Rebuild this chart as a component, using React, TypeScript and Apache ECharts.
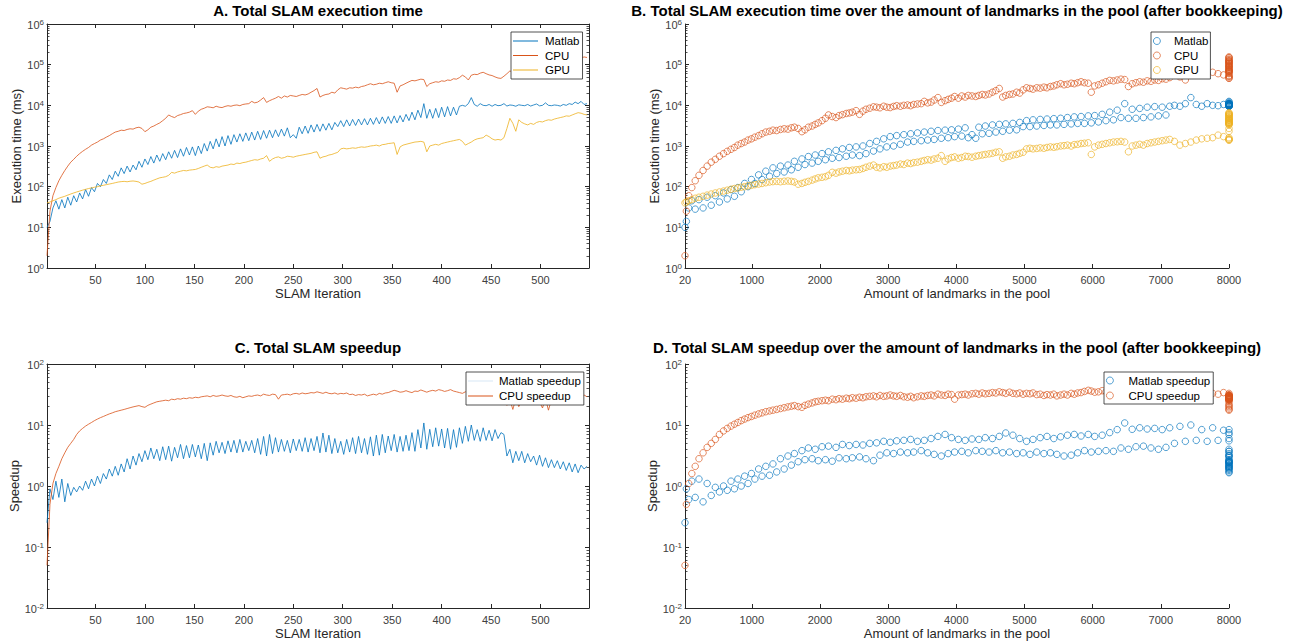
import React, { useEffect, useRef } from "react";
import * as echarts from "echarts";

const ITER_START = 1;
const ITER_STEP = 3;

const matlabTime = [
  10, 14, 30, 45, 28, 48, 30, 55, 35, 60,
  42, 70, 50, 85, 58, 95, 75, 120, 100, 150,
  120, 195, 150, 240, 180, 290, 210, 320, 230, 340,
  260, 420, 300, 480, 350, 550, 380, 600, 420, 650,
  460, 720, 500, 780, 520, 850, 560, 920, 600, 950,
  580, 1000, 650, 1150, 750, 1300, 850, 1500, 950, 1700,
  1000, 1800, 1100, 1900, 1250, 2000, 1300, 2100, 1350, 2200,
  1400, 2300, 1450, 2400, 1550, 2450, 1600, 2500, 1700, 2600,
  1750, 2800, 1600, 1900, 1550, 2900, 2000, 3100, 2050, 3300,
  2200, 3400, 2300, 3500, 2450, 3600, 2500, 3800, 3000, 4200,
  3000, 4400, 3100, 4500, 3200, 4600, 3300, 4700, 3300, 4800,
  3400, 5000, 3500, 5200, 3600, 5300, 3600, 5500, 3700, 5600,
  3900, 6000, 4200, 6800, 4400, 7600, 5000, 11000, 4800, 8000,
  4800, 8400, 5000, 9000, 5200, 9300, 5500, 9000, 5800, 9500,
  10000, 9500, 11000, 15500, 10500, 9500, 11000, 10000, 9800, 10500,
  9500, 10500, 9800, 10000, 11000, 9600, 10200, 10000, 9500, 10300,
  10000, 9800, 10500, 9600, 10200, 10800, 9700, 10000, 11500, 10000,
  9800, 10200, 10000, 9600, 10500, 10000, 11000, 10500, 12000, 11000,
  12500, 10500, 11000,
];

const cpuTime = [
  2, 25, 60, 95, 140, 190, 250, 320, 400, 470,
  560, 650, 740, 830, 920, 1050, 1150, 1250, 1400, 1500,
  1650, 1800, 2000, 2200, 2300, 2450, 2400, 2550, 2650, 2600,
  2800, 2900, 2700, 2250, 2500, 2900, 3100, 3400, 3700, 4200,
  4800, 5800, 5300, 5000, 5600, 5900, 6300, 6500, 6800, 7400,
  6000, 7200, 8000, 8500, 9200, 9000, 8700, 9500, 9000, 8800,
  9400, 9800, 9500, 10000, 10200, 9800, 10500, 10800, 11000, 12500,
  11500, 12000, 13500, 15500, 11800, 13000, 14000, 15000, 16500, 15000,
  17000, 16000, 17500, 17000, 16500, 17500, 18500, 18000, 19000, 21000,
  23000, 26000, 16000, 17500, 18500, 19000, 21000, 20000, 24000, 27000,
  26000, 25000, 27000, 26500, 28000, 27000, 29000, 30000, 32000, 34000,
  32000, 33000, 35000, 34000, 36000, 38000, 36000, 35000, 21000, 30000,
  32000, 35000, 38000, 41000, 40000, 42000, 44000, 43000, 29000, 34000,
  36000, 38000, 37000, 40000, 39000, 42000, 41000, 45000, 44000, 48000,
  55000, 50000, 42000, 55000, 58000, 57000, 62000, 65000, 60000, 56000,
  54000, 50000, 47000, 46000, 52000, 60000, 70000, 66000, 62000, 68000,
  72000, 70000, 76000, 80000, 78000, 85000, 88000, 92000, 90000, 96000,
  100000, 105000, 110000, 108000, 115000, 120000, 125000, 122000, 130000, 135000,
  145000, 155000, 150000,
];

const gpuTime = [
  40, 42, 45, 48, 52, 55, 58, 62, 66, 70,
  74, 78, 82, 86, 90, 93, 97, 100, 105, 108,
  112, 116, 120, 125, 130, 133, 135, 132, 136, 138,
  135, 130, 115, 120, 128, 135, 145, 155, 165, 170,
  176, 190, 225, 215, 230, 240, 250, 245, 255, 260,
  265, 280, 300, 320, 340, 300, 290, 310, 300, 320,
  330, 340, 360, 350, 380, 370, 390, 400, 420, 440,
  460, 450, 480, 500, 580, 420, 480, 520, 540, 500,
  520, 560, 550, 530, 560, 580, 600, 620, 640, 660,
  700, 720, 500, 540, 560, 600, 620, 660, 700, 850,
  880, 850, 870, 900, 880, 920, 950, 930, 960, 1000,
  1020, 1050, 1000, 1080, 1100, 1150, 1170, 1200, 620, 950,
  1050, 1100, 1150, 1200, 1250, 1270, 1300, 1250, 720, 1000,
  1050, 1100, 1050, 1150, 1200, 1250, 1300, 1350, 1400, 1450,
  1300, 1050, 1150, 1250, 1400, 1500, 1550, 1600, 1850, 1700,
  1500, 1400, 1450, 1400, 1600, 2700, 4800, 3600, 2300, 4400,
  3800, 3500, 3300, 3600, 3400, 3800, 4000, 3900, 4200, 4400,
  4300, 4600, 4800, 5000, 5200, 5500, 5400, 5800, 6200, 6600,
  6400, 6000, 5800,
];

const matlabSpeedup = [
  0.25, 0.9, 0.6, 1.2, 0.65, 1.3, 0.55, 1.1, 0.7, 0.95,
  0.8, 1.0, 0.85, 1.2, 0.9, 1.3, 1.0, 1.45, 1.1, 1.6,
  1.3, 1.9, 1.45, 2.1, 1.5, 2.3, 1.7, 2.8, 1.9, 3.1,
  2.2, 3.4, 2.5, 3.8, 2.7, 4.2, 2.8, 4.0, 2.6, 4.4,
  2.7, 4.5, 2.55, 4.3, 2.9, 4.8, 2.8, 4.6, 2.9, 4.8,
  3.0, 4.7, 2.8, 5.0, 2.6, 5.1, 3.2, 5.4, 3.5, 5.2,
  3.4, 5.5, 3.6, 5.6, 3.5, 5.8, 3.6, 5.4, 3.8, 5.6,
  3.5, 6.0, 3.3, 6.5, 3.1, 7.0, 3.4, 6.2, 3.6, 5.8,
  3.7, 5.6, 3.5, 5.9, 3.8, 5.8, 3.7, 6.2, 3.6, 6.0,
  3.8, 6.5, 3.5, 7.4, 3.6, 6.8, 3.4, 6.0, 3.5, 5.4,
  3.3, 5.8, 3.6, 6.2, 3.4, 6.5, 3.5, 6.0, 3.3, 6.4,
  3.1, 6.8, 3.2, 7.0, 3.5, 6.6, 3.8, 7.0, 3.6, 6.5,
  3.7, 6.8, 3.8, 7.5, 3.7, 8.4, 4.2, 10.8, 4.0, 8.5,
  4.4, 9.0, 4.5, 8.6, 4.2, 8.8, 4.0, 8.4, 4.3, 9.0,
  5.0, 9.5, 5.4, 10.0, 5.6, 8.4, 5.4, 9.0, 5.6, 8.2,
  5.5, 8.4, 6.0, 7.5, 7.0, 3.1, 4.0, 2.4, 3.7, 2.6,
  3.7, 2.4, 3.4, 2.5, 3.1, 2.2, 3.2, 2.1, 2.9, 2.0,
  2.7, 2.0, 2.6, 1.9, 2.5, 1.8, 2.4, 1.7, 2.3, 1.65,
  2.2, 1.9, 2.1,
];

const cpuSpeedup = [
  0.05, 0.5, 1.1, 1.6, 2.1, 2.8, 3.5, 4.3, 5.0, 5.8,
  7.0, 8.0, 8.8, 9.6, 10.3, 11.0, 11.8, 12.5, 13.2, 13.8,
  14.5, 15.2, 15.8, 16.5, 17.0, 17.5, 18.0, 18.6, 19.2, 19.8,
  20.3, 20.8, 20.0, 19.5, 21.0, 22.0, 23.0, 24.0, 24.5, 25.0,
  25.5, 25.0, 26.5, 26.0, 27.0, 26.5, 27.5, 27.0, 28.0, 27.5,
  28.5, 28.0, 29.0, 29.5, 30.0, 29.0, 30.5, 29.5, 30.0, 31.0,
  30.0, 29.5, 30.5, 29.0, 28.5, 29.5, 28.0, 29.0, 30.0, 29.5,
  30.5, 31.0, 30.0, 32.0, 31.0, 30.5, 32.0, 31.5, 26.5, 31.0,
  31.5, 32.0, 31.0, 32.5, 33.0, 32.0, 33.5, 32.5, 33.0, 34.0,
  33.5, 35.0, 34.0, 33.0, 34.5, 33.0, 32.5, 33.5, 32.0, 33.0,
  32.5, 33.5, 31.5, 32.0, 30.5, 31.5, 31.0, 32.0, 30.0, 31.0,
  32.0, 31.0, 33.0, 32.0, 33.5, 34.0, 35.5, 37.0, 36.0, 34.5,
  35.0, 36.5, 35.0, 34.0, 36.0, 35.5, 37.5, 36.0, 34.5, 36.0,
  37.0, 36.0, 38.0, 37.0, 35.5, 36.5, 38.0, 36.0, 35.0, 34.0,
  33.0, 35.0, 34.0, 33.5, 36.0, 35.0, 34.0, 33.0, 32.0, 34.0,
  33.0, 31.0, 30.0, 28.0, 30.0, 21.0, 26.0, 18.0, 27.0, 20.0,
  25.0, 28.0, 26.0, 22.0, 27.0, 29.0, 24.0, 19.0, 27.0, 17.5,
  26.0, 28.0, 30.0, 27.0, 29.0, 31.0, 28.0, 30.0, 27.0, 29.0,
  28.0, 31.0, 29.0,
];

// landmarks in the pool at each sampled iteration (pool capped at 8000)
const landmarks = [
  20, 40, 75, 120, 170, 225, 285, 345, 405, 465,
  525, 585, 640, 695, 745, 795, 845, 895, 945, 995,
  1045, 1100, 1150, 1205, 1260, 1310, 1365, 1420, 1475, 1530,
  1580, 1625, 1680, 1735, 1780, 1830, 1885, 1930, 1975, 2030,
  2080, 2125, 2180, 2235, 2280, 2330, 2385, 2430, 2475, 2530,
  2580, 2630, 2675, 2730, 2785, 2830, 2880, 2935, 2980, 3030,
  3080, 3125, 3180, 3230, 3285, 3330, 3375, 3430, 3485, 3530,
  3580, 3630, 3675, 3730, 3780, 3835, 3880, 3930, 3975, 4030,
  4080, 4130, 4175, 4230, 4285, 4330, 4380, 4425, 4480, 4530,
  4580, 4630, 4680, 4725, 4780, 4830, 4885, 4930, 4980, 5030,
  5080, 5125, 5180, 5230, 5285, 5330, 5380, 5430, 5475, 5530,
  5580, 5630, 5685, 5730, 5780, 5830, 5880, 5935, 5980, 6030,
  6085, 6140, 6195, 6250, 6305, 6360, 6415, 6470, 6525, 6580,
  6635, 6690, 6745, 6800, 6855, 6910, 6965, 7020, 7075, 7130,
  7200, 7280, 7360, 7440, 7520, 7600, 7680, 7760, 7840, 7920,
  8000, 8000, 8000, 8000, 8000, 8000, 8000, 8000, 8000, 8000,
  8000, 8000, 8000, 8000, 8000, 8000, 8000, 8000, 8000, 8000,
  8000, 8000, 8000, 8000, 8000, 8000, 8000, 8000, 8000, 8000,
  8000, 8000, 8000,
];

const iterations = matlabTime.map((_, k) => ITER_START + ITER_STEP * k);

const iterTicks = [50, 100, 150, 200, 250, 300, 350, 400, 450, 500];
const landmarkTicks = [20, 1000, 2000, 3000, 4000, 5000, 6000, 7000, 8000];
const timeDecades = [1, 10, 100, 1000, 10000, 100000, 1000000];
const speedDecades = [0.01, 0.1, 1, 10, 100];

const titles = [
  "A. Total SLAM execution time",
  "B. Total SLAM execution time over the amount of landmarks in the pool (after bookkeeping)",
  "C. Total SLAM speedup",
  "D. Total SLAM speedup over the amount of landmarks in the pool (after bookkeeping)",
];

// ---- styling ----
const FONT = '"Liberation Sans", Arial, Helvetica, sans-serif';
const AX = "#262626";
const AX_TXT = "#404040";
const BLUE = "#0072BD";
const ORANGE = "#D95319";
const YELLOW = "#EDB120";
const LINE_ICON = "path://M0,0L100,0L100,4L0,4Z";

const GRIDS = [
  { left: 47, top: 24, width: 542, height: 244 },
  { left: 685, top: 24, width: 544, height: 244 },
  { left: 47, top: 364, width: 542, height: 244 },
  { left: 685, top: 364, width: 544, height: 244 },
];

function minorValues(decades: number[]) {
  const out: number[] = [];
  for (let d = 0; d < decades.length - 1; d++) {
    for (let m = 2; m <= 9; m++) out.push(parseFloat((m * decades[d]).toPrecision(3)));
  }
  return out;
}

const supLabel = (v: number) => `{b|10}{s|${Math.round(Math.log10(v))}}`;
const supRich = {
  b: { fontSize: 11, color: AX_TXT, fontFamily: FONT, lineHeight: 12, verticalAlign: "bottom" },
  s: { fontSize: 8, color: AX_TXT, fontFamily: FONT, lineHeight: 12, verticalAlign: "top" },
};

function xAxisDef(grid: number, min: number, max: number, ticks: number[], pos: "bottom" | "top", name?: string) {
  return {
    type: "value",
    gridIndex: grid,
    position: pos,
    min,
    max,
    name: name || "",
    nameLocation: "middle",
    nameGap: 19,
    nameTextStyle: { fontSize: 13, color: AX, fontFamily: FONT },
    axisLine: { show: true, onZero: false, lineStyle: { color: AX, width: 1 } },
    axisTick: { show: true, inside: true, length: 4, customValues: ticks, lineStyle: { color: AX, width: 1 } },
    axisLabel: pos === "bottom"
      ? { show: true, customValues: ticks, margin: 6, fontSize: 11, color: AX_TXT, fontFamily: FONT, formatter: (v: number) => String(v) }
      : { show: false },
    splitLine: { show: false },
  };
}

function yAxisMajor(grid: number, min: number, max: number, decades: number[], pos: "left" | "right", name?: string) {
  return {
    type: "log",
    logBase: 10,
    gridIndex: grid,
    position: pos,
    min,
    max,
    name: name || "",
    nameLocation: "middle",
    nameGap: 23,
    nameTextStyle: { fontSize: 13, color: AX, fontFamily: FONT },
    axisLine: { show: true, onZero: false, lineStyle: { color: AX, width: 1 } },
    axisTick: { show: true, inside: true, length: 4, customValues: decades, lineStyle: { color: AX, width: 1 } },
    axisLabel: pos === "left"
      ? { show: true, customValues: decades, margin: 3, formatter: supLabel, rich: supRich }
      : { show: false },
    splitLine: { show: false },
  };
}

function yAxisMinor(grid: number, min: number, max: number, decades: number[], pos: "left" | "right") {
  return {
    type: "log",
    logBase: 10,
    gridIndex: grid,
    position: pos,
    min,
    max,
    axisLine: { show: false },
    axisTick: { show: true, inside: true, length: 2.5, customValues: minorValues(decades), lineStyle: { color: AX, width: 0.8 } },
    axisLabel: { show: false },
    splitLine: { show: false },
  };
}

function lineSeries(name: string, xi: number, yi: number, ys: number[], color: string) {
  return {
    type: "line",
    name,
    xAxisIndex: xi,
    yAxisIndex: yi,
    data: iterations.map((x, k) => [x, ys[k]]),
    symbol: "none",
    showSymbol: false,
    lineStyle: { width: 0.8, color },
    itemStyle: { color },
    emphasis: { disabled: true },
  };
}

function scatterSeries(name: string, xi: number, yi: number, ys: number[], color: string) {
  return {
    type: "scatter",
    name,
    xAxisIndex: xi,
    yAxisIndex: yi,
    data: landmarks.map((x, k) => [x, ys[k]]),
    symbol: "circle",
    symbolSize: 6.5,
    itemStyle: { color: "rgba(0,0,0,0)", borderColor: color, borderWidth: 0.8, opacity: 0.85 },
    emphasis: { disabled: true },
  };
}

const legendBase = {
  orient: "vertical",
  backgroundColor: "#ffffff",
  borderColor: AX,
  borderWidth: 0.8,
  borderRadius: 0,
  itemGap: 2.5,
  textStyle: { fontSize: 11.5, color: "#000", fontFamily: FONT, lineHeight: 12 },
  formatter: (n: string) => n.replace(/^[BD]:/, ""),
  selectedMode: false,
};

export default function App() {
  const ref = useRef<HTMLDivElement>(null);
  useEffect(() => {
    if (!ref.current) return;
    const chart = echarts.init(ref.current, undefined, { renderer: "svg" });
    const option: any = {
      animation: false,
      backgroundColor: "#ffffff",
      title: titles.map((t, i) => ({
        text: t,
        left: GRIDS[i].left + GRIDS[i].width / 2,
        top: i < 2 ? 3 : 340,
        textAlign: "center",
        padding: 0,
        textStyle: { fontSize: 15, fontWeight: "bold", color: "#000", fontFamily: FONT, lineHeight: 15 },
      })),
      grid: GRIDS.map((g) => ({ ...g, containLabel: false })),
      xAxis: [
        xAxisDef(0, 1, 549, iterTicks, "bottom", "SLAM Iteration"),
        xAxisDef(0, 1, 549, iterTicks, "top"),
        xAxisDef(1, 20, 8000, landmarkTicks, "bottom", "Amount of landmarks in the pool"),
        xAxisDef(2, 1, 549, iterTicks, "bottom", "SLAM Iteration"),
        xAxisDef(2, 1, 549, iterTicks, "top"),
        xAxisDef(3, 20, 8000, landmarkTicks, "bottom", "Amount of landmarks in the pool"),
      ],
      yAxis: [
        yAxisMajor(0, 1, 1e6, timeDecades, "left", "Execution time (ms)"),
        yAxisMinor(0, 1, 1e6, timeDecades, "left"),
        yAxisMajor(0, 1, 1e6, timeDecades, "right"),
        yAxisMinor(0, 1, 1e6, timeDecades, "right"),
        yAxisMajor(1, 1, 1e6, timeDecades, "left", "Execution time (ms)"),
        yAxisMinor(1, 1, 1e6, timeDecades, "left"),
        yAxisMajor(2, 0.01, 100, speedDecades, "left", "Speedup"),
        yAxisMinor(2, 0.01, 100, speedDecades, "left"),
        yAxisMajor(2, 0.01, 100, speedDecades, "right"),
        yAxisMinor(2, 0.01, 100, speedDecades, "right"),
        yAxisMajor(3, 0.01, 100, speedDecades, "left", "Speedup"),
        yAxisMinor(3, 0.01, 100, speedDecades, "left"),
      ],
      legend: [
        {
          ...legendBase,
          left: 511, top: 32, padding: [3, 3, 3, 2],
          itemWidth: 29, itemHeight: 1, itemGap: 2.5,
          icon: LINE_ICON,
          data: ["Matlab", "CPU", "GPU"],
        },
        {
          ...legendBase,
          left: 1151, top: 32, padding: [3, 2, 3, 2],
          itemWidth: 24, itemHeight: 7,
          itemStyle: { borderWidth: 0.8 },
          data: ["B:Matlab", "B:CPU", "B:GPU"],
        },
        {
          ...legendBase,
          left: 466, top: 372, padding: [3, 3, 3, 2],
          itemWidth: 27, itemHeight: 1, itemGap: 3,
          icon: LINE_ICON,
          data: [{ name: "Matlab speedup", itemStyle: { color: "#d7e7f4" } }, "CPU speedup"],
        },
        {
          ...legendBase,
          left: 1104, top: 372, padding: [2.5, 3, 2.5, 2],
          itemWidth: 27, itemHeight: 7, itemGap: 3,
          itemStyle: { borderWidth: 0.8 },
          data: ["D:Matlab speedup", "D:CPU speedup"],
        },
      ],
      series: [
        lineSeries("Matlab", 0, 0, matlabTime, BLUE),
        lineSeries("CPU", 0, 0, cpuTime, ORANGE),
        lineSeries("GPU", 0, 0, gpuTime, YELLOW),
        scatterSeries("B:Matlab", 2, 4, matlabTime, BLUE),
        scatterSeries("B:CPU", 2, 4, cpuTime, ORANGE),
        scatterSeries("B:GPU", 2, 4, gpuTime, YELLOW),
        lineSeries("Matlab speedup", 3, 6, matlabSpeedup, BLUE),
        lineSeries("CPU speedup", 3, 6, cpuSpeedup, ORANGE),
        scatterSeries("D:Matlab speedup", 5, 10, matlabSpeedup, BLUE),
        scatterSeries("D:CPU speedup", 5, 10, cpuSpeedup, ORANGE),
      ],
    };
    chart.setOption(option);
    return () => chart.dispose();
  }, []);
  return (
    <div
      ref={ref}
      style={{ position: "fixed", left: 0, top: 0, width: 1301, height: 644, background: "#fff" }}
    />
  );
}
